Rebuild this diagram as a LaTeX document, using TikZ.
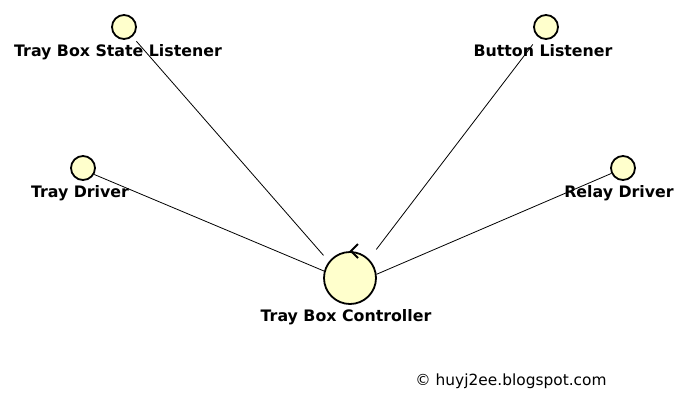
\documentclass[tikz,border=0pt]{standalone}
\usepackage{fontspec}
\setmainfont{DejaVu Sans}
\definecolor{rolefill}{HTML}{FFFFCC}
\begin{document}
\begin{tikzpicture}[x=1pt,y=-1pt,
  role/.style={circle,draw=black,line width=1.8pt,fill=rolefill,inner sep=0pt,minimum size=24pt},
  bigrole/.style={role,minimum size=52pt},
  lbl/.style={font=\bfseries\fontsize{15.8}{18}\selectfont,inner sep=0pt,anchor=base},
  link/.style={line width=0.8pt}]
\useasboundingbox (0,0) rectangle (693,408);
% roles
\node[bigrole] (ctrl) at (350,278) {};
\node[role] (tbsl) at (124,27) {};
\node[role] (bl) at (546,27) {};
\node[role] (td) at (83,168) {};
\node[role] (rd) at (623,168) {};
% labels
\node[lbl] (ctrlL) at (346,321) {Tray Box Controller};
\node[lbl] (tbslL) at (118,56) {Tray Box State Listener};
\node[lbl] (blL) at (543,56) {Button Listener};
\node[lbl] (tdL) at (80,197) {Tray Driver};
\node[lbl] (rdL) at (619,197) {Relay Driver};
\node[font=\fontsize{15.4}{18}\selectfont,inner sep=0pt,anchor=base] (copy) at (511,385) {© huyj2ee.blogspot.com};
% connectors
\draw[link,shorten <=6pt,shorten >=8pt] (tbsl.-49) -- (ctrl.142);
\draw[link,shorten <=9pt,shorten >=12pt] (bl.-127) -- (ctrl.45);
\draw[link] (td.-30) -- (ctrl.165);
\draw[link] (rd.-155) -- (ctrl.8);
% chevron on controller
\coordinate (chtip) at (351,251);
\coordinate (chup) at (358,244);
\coordinate (chdn) at (358,258);
\draw[line width=1.8pt] (chup) -- (chtip) -- (chdn);
\end{tikzpicture}
\end{document}
